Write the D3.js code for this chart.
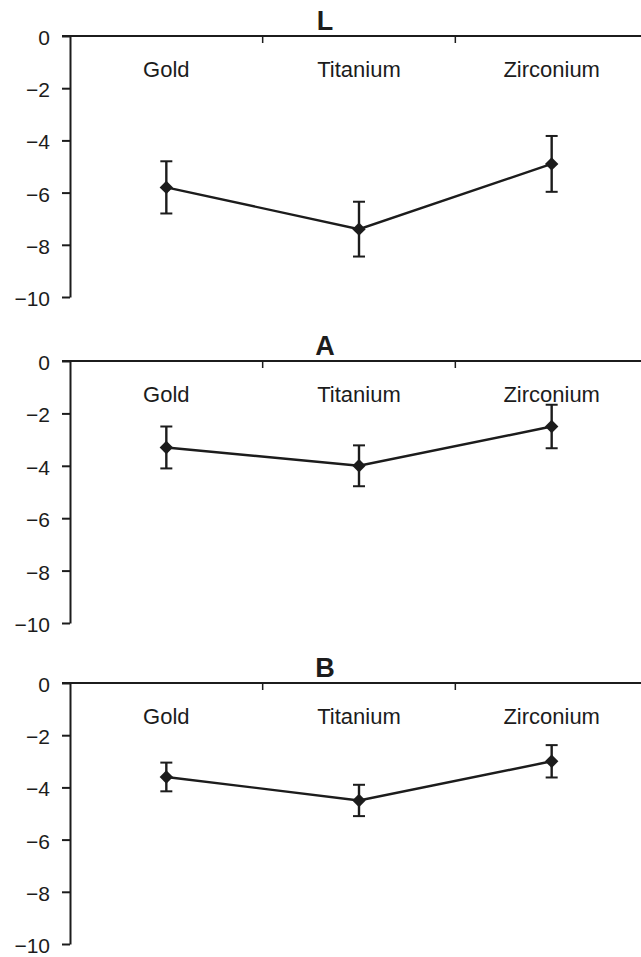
<!DOCTYPE html>
<html>
<head>
<meta charset="utf-8">
<script src="https://cdn.jsdelivr.net/npm/d3@7"></script>
<style>
  html, body { margin: 0; padding: 0; background: #fff; }
  svg { display: block; }
</style>
</head>
<body>
<svg width="641" height="957"></svg>
<script>
const categories = ['Gold', 'Titanium', 'Zirconium'];
const panelTitles = ['L', 'A', 'B'];
const yTicks = [0, -2, -4, -6, -8, -10];

// mean and error (+/-) per panel, in category order
const meanL = [-5.8, -7.4, -4.9];
const errL = [1.0, 1.05, 1.07];
const meanA = [-3.3, -4.0, -2.5];
const errA = [0.8, 0.78, 0.83];
const meanB = [-3.6, -4.5, -3.0];
const errB = [0.55, 0.6, 0.62];

const panels = [
  {title: panelTitles[0], means: meanL, errs: errL, top: 36, bottom: 297},
  {title: panelTitles[1], means: meanA, errs: errA, top: 361, bottom: 623},
  {title: panelTitles[2], means: meanB, errs: errB, top: 683, bottom: 944},
];

const svg = d3.select('svg');
const ink = '#1c1c1c';
const font = '"Liberation Sans", Arial, sans-serif';

const x = d3.scaleBand()
  .domain(categories)
  .range([70, 648])
  .padding(0);

panels.forEach(p => {
  const y = d3.scaleLinear().domain([0, -10]).range([p.top, p.bottom]);
  const g = svg.append('g');

  // left axis
  const yAxis = g.append('g')
    .attr('transform', 'translate(70,0)')
    .call(d3.axisLeft(y).tickValues(yTicks).tickSize(8).tickSizeOuter(0).tickPadding(12));
  yAxis.select('.domain').attr('stroke', ink).attr('stroke-width', 2);
  yAxis.selectAll('.tick line').attr('stroke', ink).attr('stroke-width', 2);
  yAxis.selectAll('.tick text')
    .attr('fill', ink)
    .attr('dy', '0.4em')
    .style('font-family', font)
    .style('font-size', '21px');

  // top axis along y = 0
  g.append('line')
    .attr('x1', 62).attr('x2', 641)
    .attr('y1', y(0)).attr('y2', y(0))
    .attr('stroke', ink).attr('stroke-width', 2);
  g.selectAll('.bound')
    .data(categories.slice(1))
    .join('line')
    .attr('x1', d => x(d)).attr('x2', d => x(d))
    .attr('y1', y(0)).attr('y2', y(0) + 7)
    .attr('stroke', ink).attr('stroke-width', 1.5);

  // category labels
  g.selectAll('.cat')
    .data(categories)
    .join('text')
    .attr('x', d => x(d) + x.bandwidth() / 2)
    .attr('y', y(0) + 41)
    .attr('text-anchor', 'middle')
    .attr('fill', ink)
    .style('font-family', font)
    .style('font-size', '22px')
    .text(d => d);

  // title
  g.append('text')
    .attr('x', 325)
    .attr('y', y(0) - 6)
    .attr('text-anchor', 'middle')
    .attr('fill', ink)
    .style('font-family', font)
    .style('font-size', '27px')
    .style('font-weight', 'bold')
    .text(p.title);

  const pts = categories.map((c, i) => ({
    cx: x(c) + x.bandwidth() / 2, m: p.means[i], e: p.errs[i],
  }));

  // error bars
  const eb = g.selectAll('.err').data(pts).join('g');
  eb.append('line')
    .attr('x1', d => d.cx).attr('x2', d => d.cx)
    .attr('y1', d => y(d.m + d.e)).attr('y2', d => y(d.m - d.e))
    .attr('stroke', ink).attr('stroke-width', 2.4);
  [1, -1].forEach(s => {
    eb.append('line')
      .attr('x1', d => d.cx - 6).attr('x2', d => d.cx + 6)
      .attr('y1', d => y(d.m + s * d.e)).attr('y2', d => y(d.m + s * d.e))
      .attr('stroke', ink).attr('stroke-width', 2);
  });

  // connecting line
  g.append('path')
    .datum(pts)
    .attr('fill', 'none')
    .attr('stroke', ink)
    .attr('stroke-width', 2.4)
    .attr('d', d3.line().x(d => d.cx).y(d => y(d.m)));

  // diamond markers
  g.selectAll('.pt')
    .data(pts)
    .join('path')
    .attr('transform', d => 'translate(' + d.cx + ',' + y(d.m) + ')')
    .attr('d', d3.symbol(d3.symbolDiamond2, 115)())
    .attr('fill', ink);
});
</script>
</body>
</html>
